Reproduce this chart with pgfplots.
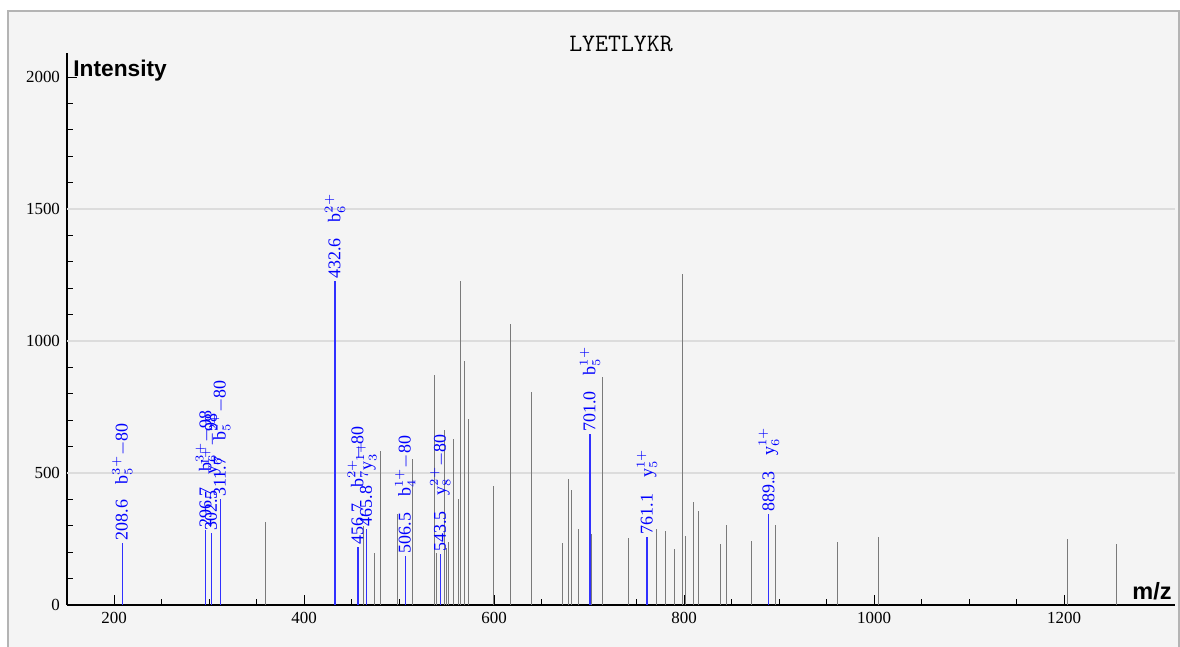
\documentclass[border=0pt]{standalone}
\usepackage{fontspec}
\setmainfont{Liberation Serif}
\setsansfont{Liberation Sans}
\usepackage{pgfplots}
\pgfplotsset{compat=1.18}
\definecolor{bgc}{HTML}{F4F4F4}
\definecolor{framec}{HTML}{B4B4B4}
\definecolor{gridc}{HTML}{DCDCDC}
\definecolor{peakgrey}{HTML}{7A7A7A}
\definecolor{annblue}{HTML}{0000FF}
\definecolor{lineblue}{HTML}{3030FF}
\begin{document}
\begin{tikzpicture}[x=1bp,y=1bp]
\useasboundingbox (0,0) rectangle (590,323);
\fill[white] (0,0) rectangle (590,323);
\fill[bgc] (4,-2) rectangle (589.5,317.5);
\draw[framec, line width=1bp] (4,-2) -- (4,317.5) -- (589.5,317.5) -- (589.5,-2);
\begin{axis}[
  at={(33.5bp,20.5bp)}, anchor=south west,
  width=554bp, height=276bp, scale only axis,
  xmin=150.5, xmax=1316.8, ymin=0, ymax=2091,
  axis x line*=bottom, axis y line*=left,
  tick pos=left, tick align=inside,
  xtick={200,400,...,1200}, minor x tick num=3,
  ytick={0,500,...,2000}, minor y tick num=4,
  major tick length=5bp, minor tick length=3bp,
  every tick/.style={black, line width=0.5bp},
  tick label style={font=\fontsize{8.5}{10}\selectfont},
  /pgf/number format/assume math mode=true,
  /pgf/number format/1000 sep={},
  extra y ticks={500,1000,1500}, extra y tick labels={},
  extra y tick style={grid=major, major tick length=0pt},
  major grid style={gridc, line width=0.6bp},
  axis line style={black, line width=0.6bp},
  clip=false,
]
\addplot[ycomb, peakgrey, line width=0.5bp, mark=none] coordinates {
(359.7,313) (462.4,300) (473.7,197) (480,583) (498.6,343) (514.4,552)
(537.2,871) (539.6,197) (548,663) (549.5,215) (552,240) (557.2,629)
(562.5,400) (564.6,1227) (568.4,924) (573.4,703) (599,451) (616.8,1063)
(639.6,807) (671.6,234) (678.3,477) (681.6,434) (688.6,288) (702.8,269)
(713.7,865) (741.8,254) (770.5,288) (780,280) (789.8,211) (798.6,1253)
(801,261) (810.2,390) (815,356) (838.6,230) (844.2,303) (870.5,242)
(895.8,303) (961.7,237) (1004.6,258) (1203.2,250) (1255.4,230)
};
\addplot[ycomb, lineblue, line width=0.6bp, mark=none,
  nodes near coords, point meta=explicit symbolic,
  nodes near coords style={rotate=90, anchor=west, inner sep=1bp,
    font=\fontsize{9}{10}\selectfont, text=annblue}] coordinates {
(208.6,235) [{208.6\hspace{8bp}b$_5^{3+}$$-$80}]
(296.7,284) [{296.7\hspace{8bp}b$_6^{3+}$$-$98}]
(302.5,271) [{302.5\hspace{8bp}y$_6^{1+}$$-$98}]
(311.7,401) [{311.7\hspace{8bp}b$_5^{2+}$$-$80}]
(432.6,1227) [{432.6\hspace{8bp}b$_6^{2+}$}]
(456.7,221) [{456.7\hspace{8bp}b$_7^{2+}$$-$80}]
(465.8,288) [{465.8\hspace{8bp}y$_3^{1+}$}]
(506.5,187) [{506.5\hspace{8bp}b$_4^{1+}$$-$80}]
(543.5,193) [{543.5\hspace{8bp}y$_8^{2+}$$-$80}]
(701.0,647) [{701.0\hspace{8bp}b$_5^{1+}$}]
(761.1,259) [{761.1\hspace{8bp}y$_5^{1+}$}]
(889.3,343) [{889.3\hspace{8bp}y$_6^{1+}$}]
};
\end{axis}
\node[anchor=center, font=\ttfamily\fontsize{12.6}{14}\selectfont] at (310.5,301) {LYETLYKR};
\node[anchor=base west, inner sep=0pt, font=\sffamily\bfseries\fontsize{11.4}{13}\selectfont] at (36.5,285) {Intensity};
\node[anchor=base east, inner sep=0pt, font=\sffamily\bfseries\fontsize{11.8}{13}\selectfont] at (586,23.3) {m/z};
\end{tikzpicture}
\end{document}
